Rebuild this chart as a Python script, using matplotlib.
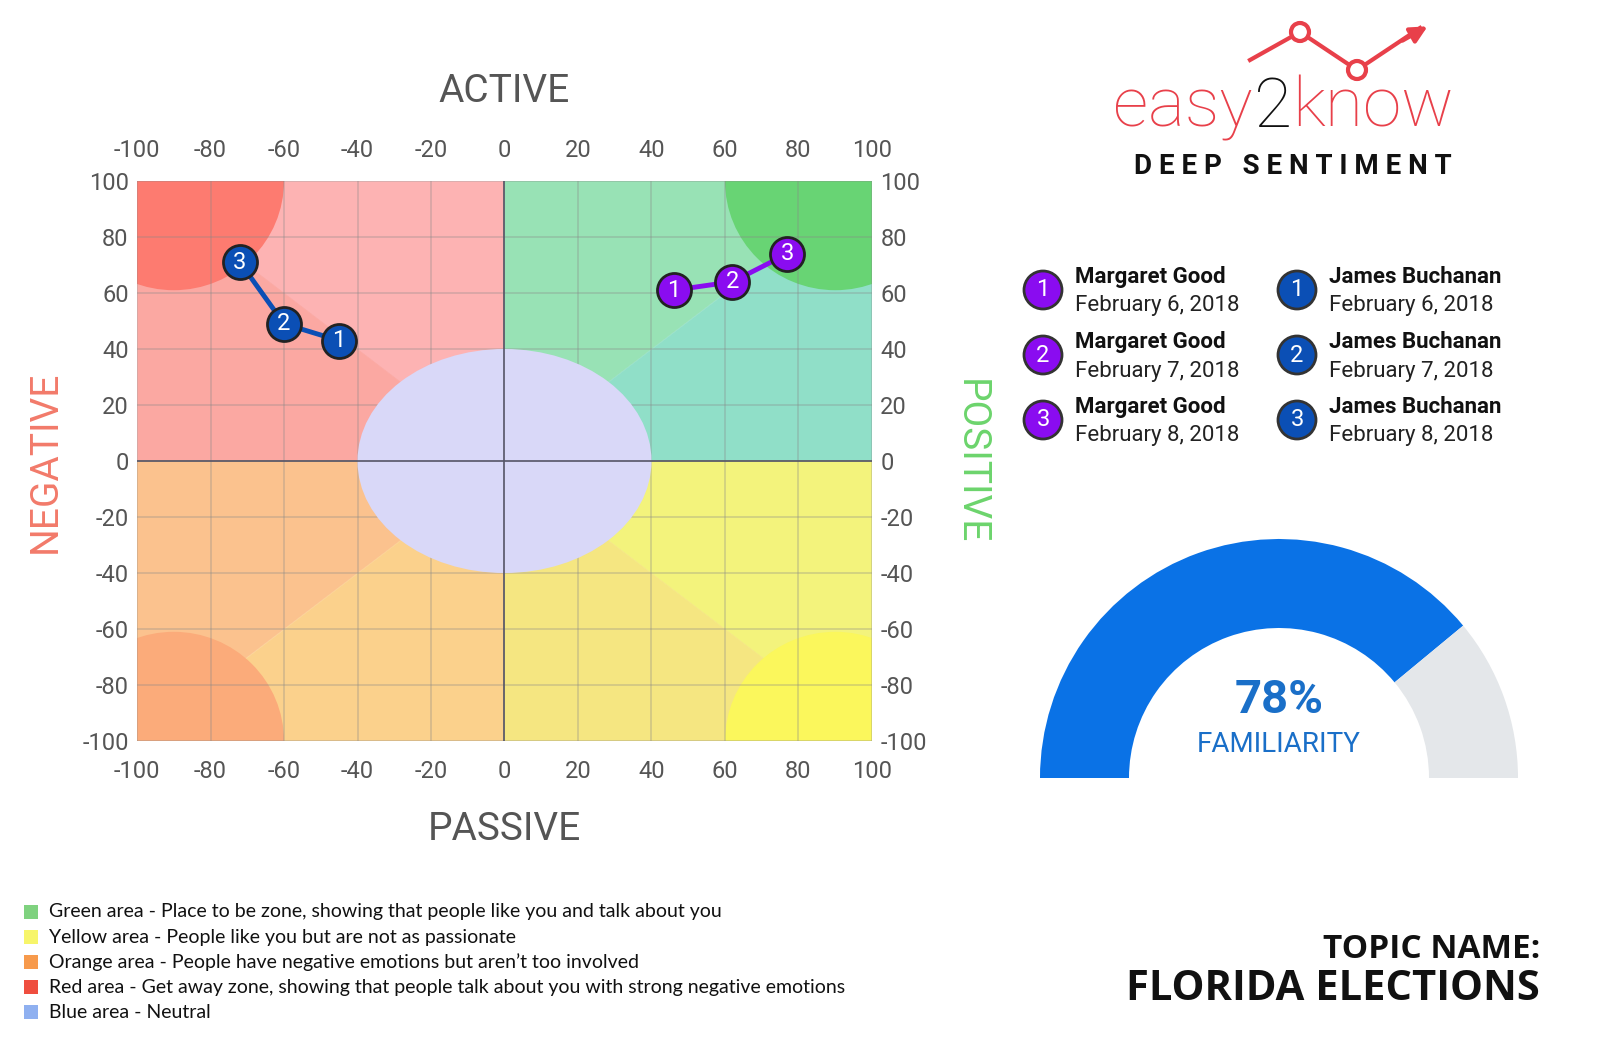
import matplotlib
matplotlib.use("Agg")
import matplotlib.pyplot as plt
from matplotlib.patches import Ellipse, Polygon, Rectangle, Wedge, Circle

# ---- data ----
margaret_x = [46, 62, 77]
margaret_y = [61, 64, 74]
james_x = [-45, -60, -72]
james_y = [43, 49, 71]
point_labels = ["1", "2", "3"]
ticks = [-100, -80, -60, -40, -20, 0, 20, 40, 60, 80, 100]
legend_names = ["Margaret Good", "James Buchanan"]
legend_dates = ["February 6, 2018", "February 7, 2018", "February 8, 2018"]
familiarity = 78
area_labels = ["Green area - Place to be zone, showing that people like you and talk about you",
               "Yellow area - People like you but are not as passionate",
               "Orange area - People have negative emotions but aren\u2019t too involved",
               "Red area - Get away zone, showing that people talk about you with strong negative emotions",
               "Blue area - Neutral"]
area_colors = ["#7fd27f", "#f7f56a", "#f79a4c", "#ef4e3f", "#8fb0f0"]

PURPLE = "#8a0cf0"
BLUE = "#0b4fb5"
W, H = 1600, 1055
plt.rcParams['font.family'] = ['Roboto', 'DejaVu Sans']
plt.rcParams['axes.unicode_minus'] = False
fig = plt.figure(figsize=(16, 10.55), dpi=100)

ax = fig.add_axes([137/W, 1 - 741/H, 735/W, 560/H])
ax.set_xlim(-100, 100)
ax.set_ylim(-100, 100)
polys = [
    ([(-100, 100), (0, 100), (0, 0)], "#fdb3b3"),
    ([(-100, 100), (-100, 0), (0, 0)], "#fba8a2"),
    ([(0, 100), (100, 100), (0, 0)], "#98e2b5"),
    ([(100, 100), (100, 0), (0, 0)], "#90dfc8"),
    ([(-100, 0), (-100, -100), (0, 0)], "#fbc28e"),
    ([(-100, -100), (0, -100), (0, 0)], "#fbd18c"),
    ([(100, 0), (100, -100), (0, 0)], "#f3f37c"),
    ([(100, -100), (0, -100), (0, 0)], "#f5e681"),
]
for pts, c in polys:
    ax.add_patch(Polygon(pts, closed=True, facecolor=c, edgecolor=c, lw=0.5, zorder=1))
corner = [((-90, 100), "#fd7b70"), ((90, 100), "#68d474"), ((-90, -100), "#fbab7a"), ((90, -100), "#fbf75c")]
for (cx, cy), c in corner:
    e = Ellipse((cx, cy), 60, 78, facecolor=c, edgecolor="none", zorder=2)
    ax.add_patch(e)
    e.set_clip_path(Rectangle((-100, -100), 200, 200, transform=ax.transData))
ax.add_patch(Ellipse((0, 0), 80, 80, facecolor="#d9d8f8", edgecolor="none", zorder=3))
ax.set_xticks(ticks)
ax.set_yticks(ticks)
ax.grid(True, color="#888888", alpha=0.35, lw=1.2, zorder=4)
ax.set_axisbelow(False)
ax.axhline(0, color="#555566", lw=1.2, zorder=4)
ax.axvline(0, color="#555566", lw=1.2, zorder=4)
for s in ax.spines.values():
    s.set_visible(False)
ax.tick_params(labelsize=17, colors="#555555", length=0, pad=6,
               top=True, labeltop=True, right=True, labelright=True)
ax.tick_params(axis="x", pad=14)
for xs, ys, c in [(margaret_x, margaret_y, PURPLE), (james_x, james_y, BLUE)]:
    ax.plot(xs, ys, color=c, lw=3.5, zorder=6)
    ax.scatter(xs, ys, s=600, color=c, edgecolor="#222222", linewidth=2, zorder=7)
    for x, y, t in zip(xs, ys, point_labels):
        ax.text(x, y, t, color="white", fontsize=17, ha="center", va="center", zorder=8)

ov = fig.add_axes([0, 0, 1, 1], zorder=5)
ov.set_xlim(0, W); ov.set_ylim(H, 0); ov.axis("off")
ov.patch.set_alpha(0)
ov.text(504, 92, "ACTIVE", fontsize=28, color="#555555", ha="center", va="center")
ov.text(504, 830, "PASSIVE", fontsize=28, color="#555555", ha="center", va="center")
ov.text(45, 462, "NEGATIVE", fontsize=28, color="#f27a6a", ha="center", va="center", rotation=90)
ov.text(970, 462, "POSITIVE", fontsize=28, color="#6cd46c", ha="center", va="center", rotation=270)

# logo
ov.text(1253, 108, "easy", fontsize=50, color="#e8404a", ha="right", va="center", fontweight="light")
ov.text(1273, 108, "2", fontsize=50, color="#111111", ha="center", va="center", fontweight="light")
ov.text(1292, 108, "know", fontsize=50, color="#e8404a", ha="left", va="center", fontweight="light")
ov.plot([1250, 1300, 1357, 1420], [60, 32, 70, 28], color="#e8404a", lw=3)
ov.add_patch(Circle((1300, 32), 9, facecolor="white", edgecolor="#e8404a", lw=3, zorder=3))
ov.add_patch(Circle((1357, 70), 9, facecolor="white", edgecolor="#e8404a", lw=3, zorder=3))
ov.annotate("", xy=(1430, 25), xytext=(1400, 42), arrowprops=dict(arrowstyle="-|>", color="#e8404a", lw=3, mutation_scale=25))
ov.text(1293, 166, "D E E P   S E N T I M E N T", fontsize=20, color="#111111", ha="center", va="center", fontweight="bold")

# legend of points
for col, (name, c, cx) in enumerate([(legend_names[0], PURPLE, 1043), (legend_names[1], BLUE, 1297)]):
    for i, (d, t) in enumerate(zip(legend_dates, point_labels)):
        cy = 290 + i * 65
        ov.add_patch(Circle((cx, cy), 19, facecolor=c, edgecolor="#333333", lw=2))
        ov.text(cx, cy, t, color="white", fontsize=17, ha="center", va="center")
        ov.text(cx + 32, cy - 13, name, fontsize=16, fontweight="bold", color="#111111", ha="left", va="center")
        ov.text(cx + 32, cy + 16, d, fontsize=16, color="#222222", ha="left", va="center")

# gauge (y axis inverted: upper half is angles 180..360)
gc = (1279, 778)
ang = 180 + 180 * familiarity / 100
ov.add_patch(Wedge(gc, 239, 180, ang, width=89, facecolor="#0a72e6", edgecolor="none"))
ov.add_patch(Wedge(gc, 239, ang, 360, width=89, facecolor="#e4e7ea", edgecolor="none"))
ov.text(1279, 700, f"{familiarity}%", fontsize=34, fontweight="bold", color="#1a6fc8", ha="center", va="center")
ov.text(1279, 744, "FAMILIARITY", fontsize=20, color="#1a6fc8", ha="center", va="center")

# area legend
for i, (t, c) in enumerate(zip(area_labels, area_colors)):
    y = 912 + i * 25
    ov.add_patch(Rectangle((24, y - 7), 14, 14, facecolor=c, edgecolor="none"))
    ov.text(49, y, t, fontsize=14, color="#111111", ha="left", va="center", family=["Lato", "DejaVu Sans"])
ov.text(1540, 950, "TOPIC NAME:", fontsize=24, fontweight="bold", color="#111111", ha="right", va="center", family=["Open Sans", "DejaVu Sans"])
ov.text(1540, 990, "FLORIDA ELECTIONS", fontsize=30, fontweight="bold", color="#111111", ha="right", va="center", family=["Open Sans", "DejaVu Sans"])

fig.savefig("out.png", dpi=100, facecolor="white")
